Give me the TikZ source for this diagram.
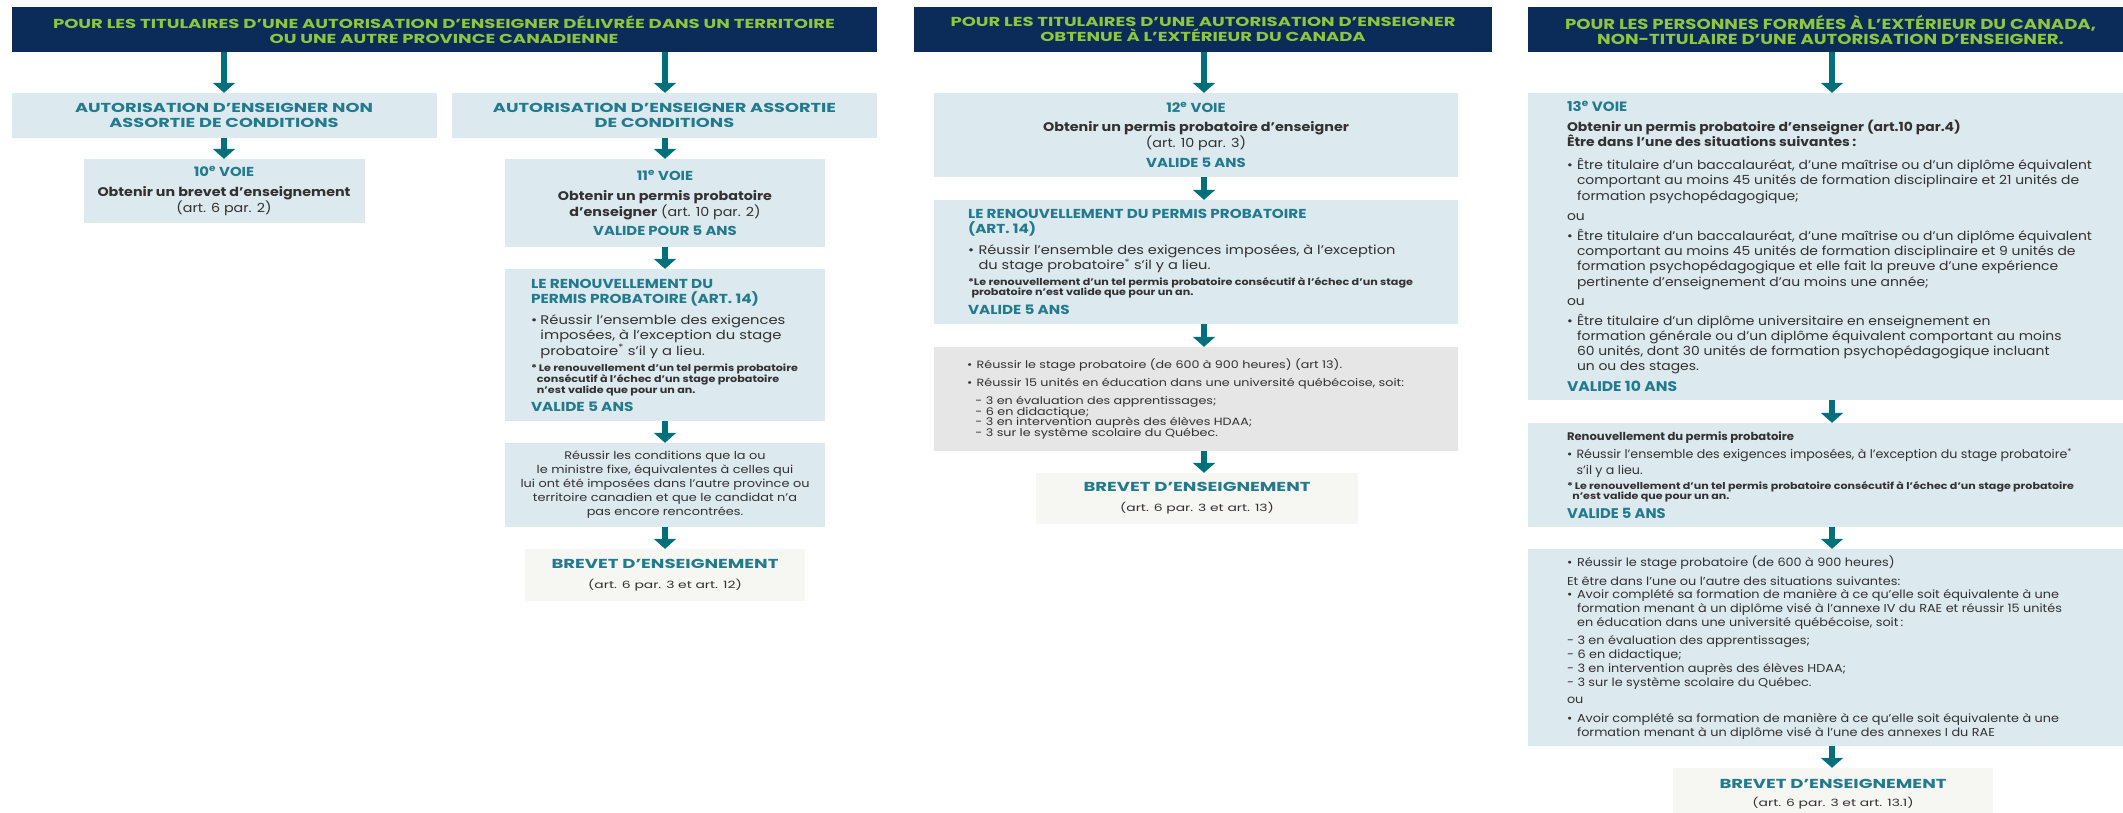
\documentclass[tikz,border=0pt]{standalone}
\usepackage{fontspec}
\usepackage{graphicx}
\setmainfont{Poppins}
\usetikzlibrary{arrows.meta}
\definecolor{navy}{HTML}{0B2C59}
\definecolor{lime}{HTML}{8DC63F}
\definecolor{lbox}{HTML}{DCE9EE}
\definecolor{tealt}{HTML}{237A8C}
\definecolor{arrc}{HTML}{006F7C}
\definecolor{gbox}{HTML}{E6E6E6}
\definecolor{bbox}{HTML}{F6F6F3}
\definecolor{dtext}{HTML}{333132}
\newcommand\fs[2]{\fontsize{#1}{#2}\selectfont}
\newlength\natw
\newcommand\fitf[3]{\settowidth\natw{#3}\pgfmathsetmacro#1{#2/\natw}}
\newcommand\Lbox[4]{\hbox to #1pt{\hspace*{#2pt}\scalebox{#3}[1]{\parbox[c]{700pt}{\raggedright\lineskiplimit=-100pt\leavevmode #4}}\hss}}
\newcommand\Cbox[3]{\hbox to #1pt{\hss\scalebox{#2}[1]{\parbox[c]{700pt}{\centering\lineskiplimit=-100pt\leavevmode #3}}\hss}}
\newcommand\bul[1]{\makebox[#1][l]{•}}
\newcommand\tb{\color{tealt}\bfseries}
\tikzset{
  bx/.style={inner sep=0pt,text=dtext},
  arr/.style={draw=arrc,line width=6pt,-{Triangle[length=10pt,width=22pt]}},
}
\begin{document}
\fitf\fHa{782}{\bfseries\fs{13}{15}POUR LES TITULAIRES D’UNE AUTORISATION D’ENSEIGNER DÉLIVRÉE DANS UN TERRITOIRE}%
\fitf\fAa{298}{\bfseries\fs{13}{15}AUTORISATION D’ENSEIGNER NON}%
\fitf\fBa{253}{\bfseries\fs{12.5}{16}Obtenir un brevet d’enseignement}%
\fitf\fRa{245}{\fs{12.5}{16}Réussir l’ensemble des exigences}%
\fitf\fNa{267}{\bfseries\fs{9.5}{11}*\,Le renouvellement d’un tel permis probatoire}%
\pgfmathsetmacro\fNa{\fNa/\fRa}%
\fitf\fCa{289}{\fs{11}{14}lui ont été imposées dans l’autre province ou}%
\fitf\fBR{227}{\bfseries\fs{13}{16}BREVET D’ENSEIGNEMENT}%
\fitf\fHb{505}{\bfseries\fs{13}{15}POUR LES TITULAIRES D’UNE AUTORISATION D’ENSEIGNER}%
\fitf\fBb{306}{\bfseries\fs{12.5}{16}Obtenir un permis probatoire d’enseigner}%
\fitf\fRb{417}{\fs{12.5}{16}Réussir l’ensemble des exigences imposées, à l’exception}%
\fitf\fNb{445}{\bfseries\fs{9.5}{10}*Le renouvellement d’un tel permis probatoire consécutif à l’échec d’un stage}%
\pgfmathsetmacro\fNb{\fNb/\fRb}%
\fitf\fGb{437}{\fs{10.5}{10.7}\bul{8pt}Réussir 15 unités en éducation dans une université québécoise, soit:}%
\fitf\fHc{531}{\bfseries\fs{14.5}{15}POUR LES PERSONNES FORMÉES À L’EXTÉRIEUR DU CANADA,}%
\fitf\fBc{525}{\fs{12.5}{15.3}\bul{9pt}Être titulaire d’un baccalauréat, d’une maîtrise ou d’un diplôme équivalent}%
\fitf\fRc{505}{\fs{12}{16}\bul{9pt}Réussir l’ensemble des exigences imposées, à l’exception du stage probatoire\textsuperscript{*}}%
\fitf\fNc{507}{\bfseries\fs{9.5}{10}*\,Le renouvellement d’un tel permis probatoire consécutif à l’échec d’un stage probatoire}%
\pgfmathsetmacro\fNc{\fNc/\fRc}%
\fitf\fSc{495}{\fs{11.5}{14}\hspace*{9pt}formation menant à un diplôme visé à l’annexe IV du RAE et réussir 15 unités}%
\begin{tikzpicture}[x=1pt,y=-1pt]
\useasboundingbox (0,0) rectangle (2123,812);
% ================= column 1
\node[bx,fill=navy,text=lime,minimum width=865pt,minimum height=45pt,font=\bfseries\fs{13}{15}] (H1) at (444,29.5)
  {\Cbox{865}{\fHa}{POUR LES TITULAIRES D’UNE AUTORISATION D’ENSEIGNER DÉLIVRÉE DANS UN TERRITOIRE\\OU UNE AUTRE PROVINCE CANADIENNE}};
\node[bx,fill=lbox,text=tealt,minimum width=425pt,minimum height=45pt,font=\bfseries\fs{13}{15.5}] (A1) at (224,115.5)
  {\Cbox{425}{\fAa}{AUTORISATION D’ENSEIGNER NON\\ASSORTIE DE CONDITIONS}};
\node[bx,fill=lbox,text=tealt,minimum width=425pt,minimum height=45pt,font=\bfseries\fs{13}{15.5}] (A2) at (664.5,115.5)
  {\Cbox{425}{\fAa}{AUTORISATION D’ENSEIGNER ASSORTIE\\DE CONDITIONS}};
\node[bx,fill=lbox,minimum width=281pt,minimum height=64pt,font=\fs{12.5}{16}] (B10) at (224,191)
  {\Cbox{281}{\fBa}{{\tb\fs{13}{16}10\textsuperscript{e} VOIE\\[4pt]}{\bfseries Obtenir un brevet d’enseignement\\}(art. 6 par. 2)}};
\node[bx,fill=lbox,minimum width=320pt,minimum height=88pt,font=\fs{12.5}{15.5}] (B11) at (665,203)
  {\Cbox{320}{\fBa}{{\tb\fs{13}{16}11\textsuperscript{e} VOIE\\[5pt]}{\bfseries Obtenir un permis probatoire\\d’enseigner} (art. 10 par. 2)\\[3pt]{\tb\fs{13}{16}VALIDE POUR 5 ANS\par}}};
\node[bx,fill=lbox,minimum width=320pt,minimum height=152pt,font=\fs{12.5}{15.5}] (R11) at (665,345)
  {\Lbox{320}{26}{\fRa}{{\tb\fs{13}{15}LE RENOUVELLEMENT DU\\PERMIS PROBATOIRE (ART. 14)\\[5.5pt]}
  \bul{8pt}Réussir l’ensemble des exigences\\
  \hspace*{8pt}imposées, à l’exception du stage\\
  \hspace*{8pt}probatoire\textsuperscript{*} s’il y a lieu.\\[5pt]
  {\bfseries\fs{9.5}{11}\scalebox{\fNa}[1]{*\,Le renouvellement d’un tel permis probatoire}\\
  \hspace*{5pt}\scalebox{\fNa}[1]{consécutif à l’échec d’un stage probatoire}\\
  \hspace*{5pt}\scalebox{\fNa}[1]{n’est valide que pour un an.}\\[3pt]}
  {\tb\fs{13}{15}VALIDE 5 ANS\par}}};
\node[bx,fill=lbox,minimum width=320pt,minimum height=84pt,font=\fs{11}{14}] (C11) at (665,485)
  {\Cbox{320}{\fCa}{Réussir les conditions que la ou\\le ministre fixe, équivalentes à celles qui\\lui ont été imposées dans l’autre province ou\\territoire canadien et que le candidat n’a\\pas encore rencontrées.}};
\node[bx,fill=bbox,minimum width=280pt,minimum height=52pt,font=\fs{10}{12}] (BR11) at (665,575)
  {\Cbox{280}{\fBR}{{\tb\fs{13}{16}BREVET D’ENSEIGNEMENT\\[8pt]}(art. 6 par. 3 et art. 12)}};
\draw[arr] (H1.south -| A1.north) -- (A1.north);
\draw[arr] (H1.south -| B11.north) -- (A2.north -| B11.north);
\draw[arr] (A1.south) -- (B10.north);
\draw[arr] (A2.south -| B11.north) -- (B11.north);
\draw[arr] (B11.south) -- (R11.north);
\draw[arr] (R11.south) -- (C11.north);
\draw[arr] (C11.south) -- (BR11.north);
% ================= column 2
\coordinate (ax2) at (1204,0);
\node[bx,fill=navy,text=lime,minimum width=578pt,minimum height=45pt,font=\bfseries\fs{13}{15}] (H2) at (1203,29.5)
  {\Cbox{578}{\fHb}{POUR LES TITULAIRES D’UNE AUTORISATION D’ENSEIGNER\\OBTENUE À L’EXTÉRIEUR DU CANADA}};
\node[bx,fill=lbox,minimum width=524pt,minimum height=84pt,font=\fs{12.5}{16}] (B12) at (1196,135)
  {\Cbox{524}{\fBb}{{\tb\fs{13}{16}12\textsuperscript{e} VOIE\\[3pt]}{\bfseries Obtenir un permis probatoire d’enseigner\\}(art. 10 par. 3)\\[4pt]{\tb\fs{13}{16}VALIDE 5 ANS\par}}};
\node[bx,fill=lbox,minimum width=524pt,minimum height=124pt,font=\fs{12.5}{15.5}] (R12) at (1196,262)
  {\Lbox{524}{34}{\fRb}{{\tb\fs{13}{15}LE RENOUVELLEMENT DU PERMIS PROBATOIRE\\(ART. 14)\\[5.5pt]}
  \bul{9pt}Réussir l’ensemble des exigences imposées, à l’exception\\
  \hspace*{9pt}du stage probatoire\textsuperscript{*} s’il y a lieu.\\[6pt]
  {\bfseries\fs{9.5}{10}\scalebox{\fNb}[1]{*Le renouvellement d’un tel permis probatoire consécutif à l’échec d’un stage}\\
  \hspace*{3pt}\scalebox{\fNb}[1]{probatoire n’est valide que pour un an.}\\[4pt]}
  {\tb\fs{13}{15}VALIDE 5 ANS\par}}};
\node[bx,fill=gbox,minimum width=524pt,minimum height=104pt,font=\fs{10.5}{10.7}] (G12) at (1196,399)
  {\Lbox{524}{33}{\fGb}{\bul{8pt}Réussir le stage probatoire (de 600 à 900 heures) (art 13).\\[7.3pt]
  \bul{8pt}Réussir 15 unités en éducation dans une université québécoise, soit:\\[7.3pt]
  \hspace*{7pt}- 3 en évaluation des apprentissages;\\
  \hspace*{7pt}- 6 en didactique;\\
  \hspace*{7pt}- 3 en intervention auprès des élèves HDAA;\\
  \hspace*{7pt}- 3 sur le système scolaire du Québec.}};
\node[bx,fill=bbox,minimum width=322pt,minimum height=51pt,font=\fs{10}{12}] (BR12) at (1197,498.5)
  {\Cbox{322}{\fBR}{{\tb\fs{13}{16}BREVET D’ENSEIGNEMENT\\[8pt]}(art. 6 par. 3 et art. 13)}};
\draw[arr] (H2.south -| ax2) -- (B12.north -| ax2);
\draw[arr] (B12.south -| ax2) -- (R12.north -| ax2);
\draw[arr] (R12.south -| ax2) -- (G12.north -| ax2);
\draw[arr] (G12.south -| ax2) -- (BR12.north -| ax2);
% ================= column 3
\coordinate (ax3) at (1832,0);
\node[bx,fill=navy,text=lime,minimum width=595pt,minimum height=45pt,font=\bfseries\fs{14.5}{15}] (H3) at (1825.5,29.5)
  {\Cbox{595}{\fHc}{\hspace*{8pt}POUR LES PERSONNES FORMÉES À L’EXTÉRIEUR DU CANADA,\\\hspace*{8pt}NON-TITULAIRE D’UNE AUTORISATION D’ENSEIGNER.}};
\node[bx,fill=lbox,minimum width=595pt,minimum height=307pt,font=\fs{12.5}{15.3}] (B13) at (1825.5,246.5)
  {\Lbox{595}{39}{\fBc}{{\tb\fs{13.5}{15}13\textsuperscript{e} VOIE\\[4.5pt]}
  {\bfseries Obtenir un permis probatoire d’enseigner (art.10 par.4)\\
  Être dans l’une des situations suivantes\,:\\[7.7pt]}
  \bul{9pt}Être titulaire d’un baccalauréat, d’une maîtrise ou d’un diplôme équivalent\\
  \hspace*{9pt}comportant au moins 45 unités de formation disciplinaire et 21 unités de\\
  \hspace*{9pt}formation psychopédagogique;\\[4.7pt]
  ou\\[4.7pt]
  \bul{9pt}Être titulaire d’un baccalauréat, d’une maîtrise ou d’un diplôme équivalent\\
  \hspace*{9pt}comportant au moins 45 unités de formation disciplinaire et 9 unités de\\
  \hspace*{9pt}formation psychopédagogique et elle fait la preuve d’une expérience\\
  \hspace*{9pt}pertinente d’enseignement d’au moins une année;\\[3.7pt]
  ou\\[4.7pt]
  \bul{9pt}Être titulaire d’un diplôme universitaire en enseignement en\\
  \hspace*{9pt}formation générale ou d’un diplôme équivalent comportant au moins\\
  \hspace*{9pt}60 unités, dont 30 unités de formation psychopédagogique incluant\\
  \hspace*{9pt}un ou des stages.\\[6pt]
  {\tb\fs{14}{15}VALIDE 10 ANS\par}}};
\node[bx,fill=lbox,minimum width=595pt,minimum height=104pt,font=\fs{12}{16}] (R13) at (1825.5,475)
  {\Lbox{595}{39}{\fRc}{{\bfseries\fs{11}{14}Renouvellement du permis probatoire\\[2pt]}
  \bul{9pt}Réussir l’ensemble des exigences imposées, à l’exception du stage probatoire\textsuperscript{*}\\
  \hspace*{9pt}s’il y a lieu.\\[5pt]
  {\bfseries\fs{9.5}{10}\scalebox{\fNc}[1]{*\,Le renouvellement d’un tel permis probatoire consécutif à l’échec d’un stage probatoire}\\
  \hspace*{5pt}\scalebox{\fNc}[1]{n’est valide que pour un an.}\\[4pt]}
  {\tb\fs{14}{15}VALIDE 5 ANS\par}}};
\node[bx,fill=lbox,minimum width=595pt,minimum height=197pt,font=\fs{11.5}{14}] (S13) at (1825.5,647.5)
  {\Lbox{595}{39}{\fSc}{\bul{9pt}Réussir le stage probatoire (de 600 à 900 heures)\\[5pt]
  Et être dans l’une ou l’autre des situations suivantes:\\[-1pt]
  \bul{9pt}Avoir complété sa formation de manière à ce qu’elle soit équivalente à une\\
  \hspace*{9pt}formation menant à un diplôme visé à l’annexe IV du RAE et réussir 15 unités\\
  \hspace*{9pt}en éducation dans une université québécoise, soit\,:\\[4pt]
  - 3 en évaluation des apprentissages;\\
  - 6 en didactique;\\
  - 3 en intervention auprès des élèves HDAA;\\
  - 3 sur le système scolaire du Québec.\\[3pt]
  ou\\[5pt]
  \bul{9pt}Avoir complété sa formation de manière à ce qu’elle soit équivalente à une\\
  \hspace*{9pt}formation menant à un diplôme visé à l’une des annexes I du RAE}};
\node[bx,fill=bbox,minimum width=320pt,minimum height=52pt,font=\fs{10}{12}] (BR13) at (1833,794)
  {\Cbox{320}{\fBR}{{\tb\fs{13}{16}BREVET D’ENSEIGNEMENT\\[6pt]}(art. 6 par. 3 et art. 13.1)}};
\draw[arr] (H3.south -| ax3) -- (B13.north -| ax3);
\draw[arr] (B13.south -| ax3) -- (R13.north -| ax3);
\draw[arr] (R13.south -| ax3) -- (S13.north -| ax3);
\draw[arr] (S13.south -| ax3) -- (BR13.north -| ax3);
\end{tikzpicture}
\end{document}
